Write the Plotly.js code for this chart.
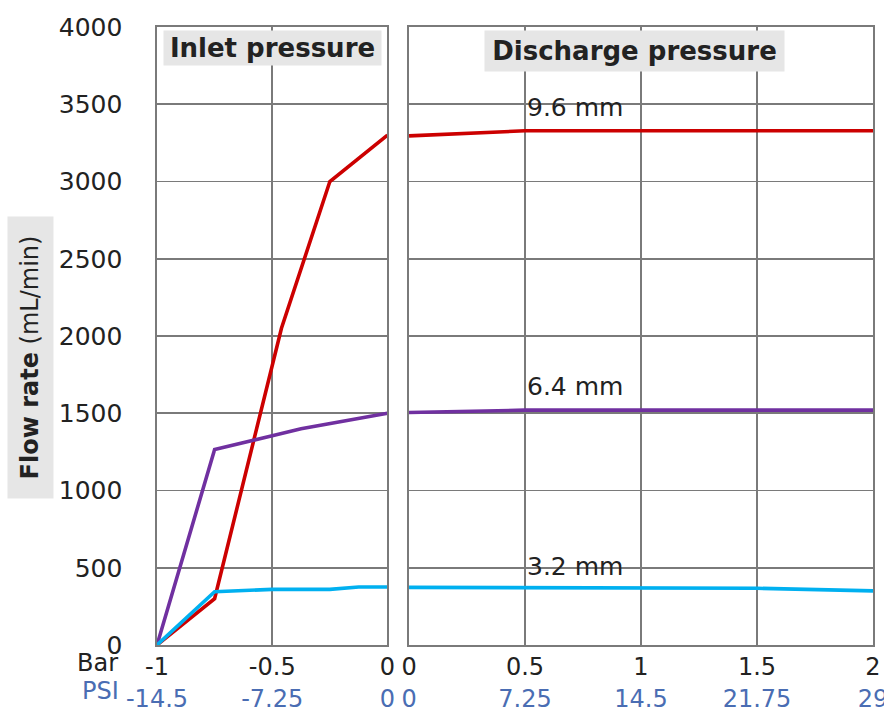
<!DOCTYPE html>
<html>
<head>
<meta charset="utf-8">
<script src="https://cdn.plot.ly/plotly-3.0.1.min.js"></script>
<style>html,body{margin:0;padding:0;background:#fff;}</style>
</head>
<body>
<div id="chart" style="width:884px;height:709px;"></div>
<script>
// ---- data ----
const seriesNames = ['9.6 mm', '6.4 mm', '3.2 mm'];

// Inlet pressure (Bar, -1..0)
const redInX    = [-1, -0.75, -0.46, -0.25, 0];
const redInY    = [0, 300, 2050, 3000, 3300];
const purpleInX = [-1, -0.75, -0.5, -0.375, 0];
const purpleInY = [0, 1265, 1355, 1400, 1500];
const cyanInX   = [-1, -0.75, -0.5, -0.25, -0.125, 0];
const cyanInY   = [0, 345, 360, 360, 375, 375];

// Discharge pressure (Bar, 0..2)
const dischX    = [0, 0.5, 1, 1.5, 2];
const redOutY   = [3295, 3328, 3328, 3328, 3328];
const purpleOutY= [1505, 1520, 1520, 1520, 1520];
const cyanOutY  = [373, 371, 370, 367, 350];

// tick labels
const inletTickBar  = [-1, -0.5, 0];
const inletTickPsi  = ['-14.5', '-7.25', '0'];
const dischTickBar  = [0, 0.5, 1, 1.5, 2];
const dischTickPsi  = ['0', '7.25', '14.5', '21.75', '29'];
const yTicks = [0, 500, 1000, 1500, 2000, 2500, 3000, 3500, 4000];

// ---- styles ----
const colors = ['#cc0000', '#7030a0', '#00b0f0'];
const FONT = 'DejaVu Sans, Noto Sans, sans-serif';
const GRID = '#7a7a7a';
const PSI_COLOR = '#4a6db3';

function tickText(bar, psi) {
  return bar.map((b, i) => String(b) + '<br><span style="color:' + PSI_COLOR + '">' + psi[i] + '</span>');
}

const lw = 3.6;
const traces = [
  {x: redInX, y: redInY, xaxis: 'x', yaxis: 'y', name: seriesNames[0], line: {color: colors[0], width: lw}},
  {x: purpleInX, y: purpleInY, xaxis: 'x', yaxis: 'y', name: seriesNames[1], line: {color: colors[1], width: lw}},
  {x: cyanInX, y: cyanInY, xaxis: 'x', yaxis: 'y', name: seriesNames[2], line: {color: colors[2], width: lw}},
  {x: dischX, y: redOutY, xaxis: 'x2', yaxis: 'y2', name: seriesNames[0], line: {color: colors[0], width: lw}},
  {x: dischX, y: purpleOutY, xaxis: 'x2', yaxis: 'y2', name: seriesNames[1], line: {color: colors[1], width: lw}},
  {x: dischX, y: cyanOutY, xaxis: 'x2', yaxis: 'y2', name: seriesNames[2], line: {color: colors[2], width: lw}}
].map(t => Object.assign({type: 'scatter', mode: 'lines', showlegend: false, hoverinfo: 'skip'}, t));

const axisCommon = {
  showgrid: true, gridcolor: GRID, gridwidth: 1.6,
  showline: true, linecolor: GRID, linewidth: 1.6, mirror: true,
  zeroline: false, ticks: '', automargin: false, fixedrange: true,
  ticklabeloverflow: 'allow',
  tickfont: {family: FONT, size: 24, color: '#222'}
};

const labelY = [3480, 1670, 505];
const annotations = [
  {xref: 'x domain', yref: 'paper', x: 0.5, y: 1, yanchor: 'top', yshift: -3,
   text: '<b>Inlet pressure</b>', showarrow: false, bgcolor: '#e6e6e6',
   width: 217, height: 34, borderpad: 0,
   font: {family: FONT, size: 26, color: '#222'}},
  {xref: 'x2 domain', yref: 'paper', x: 0.486, y: 1, yanchor: 'top', yshift: -3,
   text: '<b>Discharge pressure</b>', showarrow: false, bgcolor: '#e6e6e6',
   width: 299, height: 40, borderpad: 0,
   font: {family: FONT, size: 26, color: '#222'}},
  {xref: 'paper', yref: 'paper', x: -0.1774, y: 0.466, xanchor: 'center', yanchor: 'middle',
   textangle: -90,
   text: '<b>Flow rate</b> (mL/min)', showarrow: false, bgcolor: '#e6e6e6',
   width: 281, height: 45, borderpad: 0,
   font: {family: FONT, size: 24, color: '#222'}},
  {xref: 'paper', yref: 'paper', x: -0.051, y: -0.029, xanchor: 'right', yanchor: 'middle',
   text: 'Bar', showarrow: false, font: {family: FONT, size: 24, color: '#222'}},
  {xref: 'paper', yref: 'paper', x: -0.050, y: -0.075, xanchor: 'right', yanchor: 'middle',
   text: 'PSI', showarrow: false, font: {family: FONT, size: 24, color: PSI_COLOR}}
];
seriesNames.forEach((n, i) => {
  annotations.push({xref: 'x2', yref: 'y2', x: 0.5, y: labelY[i], xanchor: 'left', yanchor: 'middle',
    text: n, showarrow: false, font: {family: FONT, size: 25, color: '#222'}});
});

const layout = {
  width: 884, height: 709,
  margin: {l: 157, r: 11, t: 27, b: 64, pad: 0},
  paper_bgcolor: '#fff', plot_bgcolor: '#fff',
  font: {family: FONT, color: '#222'},
  showlegend: false,
  xaxis: Object.assign({}, axisCommon, {domain: [0, 0.3219], range: [-1, 0], anchor: 'y',
    tickvals: inletTickBar, ticktext: tickText(inletTickBar, inletTickPsi)}),
  xaxis2: Object.assign({}, axisCommon, {domain: [0.352, 1], range: [0, 2], anchor: 'y2',
    tickvals: dischTickBar, ticktext: tickText(dischTickBar, dischTickPsi)}),
  yaxis: Object.assign({}, axisCommon, {domain: [0, 1], range: [0, 4000], anchor: 'x',
    tickvals: yTicks, ticklabelstandoff: 28, tickfont: {family: FONT, size: 25, color: '#222'}}),
  yaxis2: Object.assign({}, axisCommon, {domain: [0, 1], range: [0, 4000], anchor: 'x2',
    tickvals: yTicks, showticklabels: false}),
  annotations: annotations
};

Plotly.newPlot('chart', traces, layout, {displayModeBar: false, staticPlot: true});
</script>
</body>
</html>
